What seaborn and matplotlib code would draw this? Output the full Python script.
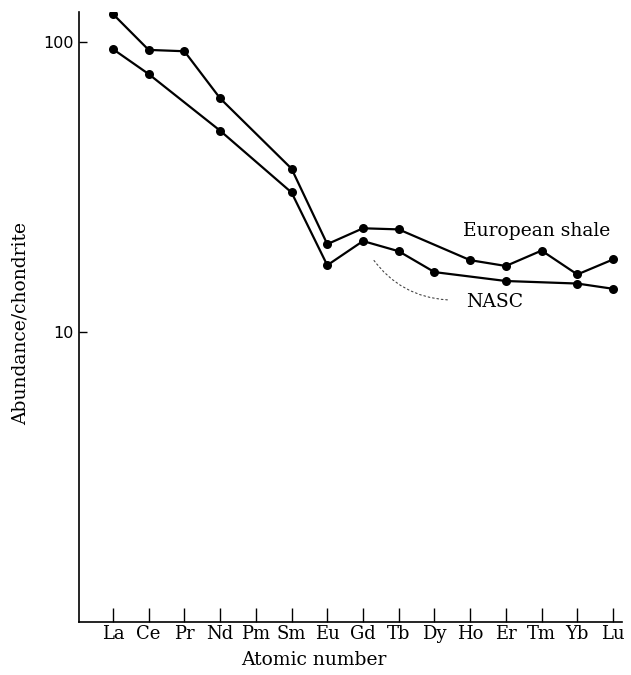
import numpy as np
import pandas as pd
import matplotlib
matplotlib.use("Agg")
import matplotlib.pyplot as plt
import seaborn as sns

# Rare earth elements, in order of atomic number
elements = ["La", "Ce", "Pr", "Nd", "Pm", "Sm", "Eu", "Gd", "Tb",
            "Dy", "Ho", "Er", "Tm", "Yb", "Lu"]

# Chondrite-normalised abundances (NaN = not determined)
european_shale = [125, 94, 93, 64, np.nan, 36.6, 20.1, 22.8, 22.6,
                  np.nan, 17.7, 16.9, 19.1, 15.8, 17.8]
nasc = [94.6, 77.6, np.nan, 49.5, np.nan, 30.3, 17.0, 20.6, 19.0,
        16.1, np.nan, 15.0, np.nan, 14.7, 14.1]

y_ticks = [10, 100]
y_tick_labels = ["10", "100"]

rows = []
for name, values in (("European shale", european_shale), ("NASC", nasc)):
    for i, (el, v) in enumerate(zip(elements, values)):
        rows.append({"series": name, "pos": i, "element": el, "value": v})
df = pd.DataFrame(rows).dropna()

sns.set_theme(style="ticks")
plt.rcParams["font.family"] = ["DejaVu Serif"]
plt.rcParams["text.color"] = "black"
plt.rcParams["axes.labelcolor"] = "black"
plt.rcParams["xtick.color"] = "black"
plt.rcParams["ytick.color"] = "black"

fig = plt.figure(figsize=(6.31, 6.75), dpi=100)
ax = fig.add_axes([0.1252, 0.0785, 0.8605, 0.9037])

sns.lineplot(data=df, x="pos", y="value", units="series", estimator=None,
             color="black", marker="o", markersize=6.5, markeredgewidth=0,
             linewidth=1.6, sort=True, legend=False, ax=ax)

ax.set_yscale("log")
ax.set_ylim(1.0, 127)
ax.set_xlim(-0.95, 14.25)

ax.set_yticks(y_ticks)
ax.set_yticklabels(y_tick_labels, family="DejaVu Sans", fontsize=11.5)
ax.yaxis.set_minor_locator(matplotlib.ticker.NullLocator())
ax.tick_params(axis="y", direction="in", length=6, width=1.0, pad=4,
               colors="black")

ax.set_xticks(range(len(elements)))
ax.set_xticklabels(elements, fontsize=13)
ax.tick_params(axis="x", direction="in", length=10, width=1.0, pad=2,
               colors="black")

for side in ("top", "right"):
    ax.spines[side].set_visible(False)
for side in ("left", "bottom"):
    ax.spines[side].set_color("black")
    ax.spines[side].set_linewidth(1.2)

ax.set_xlabel("Atomic number", fontsize=13.5, color="black")
ax.xaxis.set_label_coords(0.433, -0.048)
ax.set_ylabel("Abundance/chondrite", fontsize=13.5, color="black")
ax.yaxis.set_label_coords(-0.108, 0.49)
ax.yaxis.label.set_verticalalignment("center")

ax.text(9.8, 22.3, "European shale", fontsize=13.5, va="center", ha="left",
        color="black")
ax.text(9.89, 12.7, "NASC", fontsize=13.5, va="center", ha="left",
        color="black")
ax.annotate("", xy=(7.23, 18.2), xytext=(9.44, 12.9),
            arrowprops=dict(arrowstyle="-", linestyle=(0, (1.5, 2.5)),
                            linewidth=0.8, color="#444444",
                            connectionstyle="arc3,rad=-0.25"))

fig.savefig("out.png", dpi=100, facecolor="white")
